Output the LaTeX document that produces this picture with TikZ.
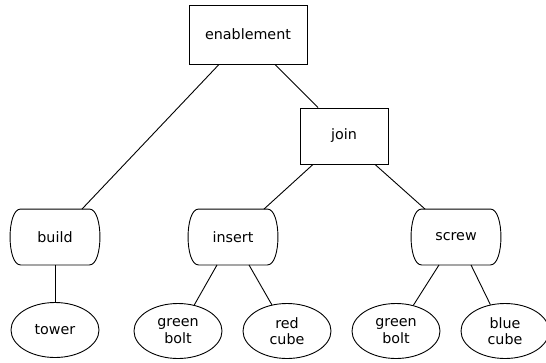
\documentclass[tikz,border=0pt]{standalone}
\usepackage{fontspec}
\setmainfont{DejaVu Sans}
\usetikzlibrary{positioning, shapes.geometric}
\tikzset{
every node/.style={font=\fontsize{14.3}{16.5}\selectfont, align=center}, % text of all nodes
task/.style={draw, rectangle, minimum width=88pt, minimum height=56pt}, % composite steps
act/.style={minimum width=88pt, minimum height=55pt, % actions: box with bulging sides
  append after command={\pgfextra{\draw ([xshift=10pt]\tikzlastnode.north west) -- ([xshift=-10pt]\tikzlastnode.north east)
    .. controls ([xshift=4pt]\tikzlastnode.north east) and ([xshift=4pt]\tikzlastnode.south east) .. ([xshift=-10pt]\tikzlastnode.south east)
    -- ([xshift=10pt]\tikzlastnode.south west)
    .. controls ([xshift=-4pt]\tikzlastnode.south west) and ([xshift=-4pt]\tikzlastnode.north west) .. cycle;}}},
part/.style={draw, ellipse, inner sep=0pt, minimum width=88pt, minimum height=55pt}, % objects
node distance=109pt, % spacing of the leaves. Change if necessary.
}

\begin{document}
\begin{tikzpicture}[x=1pt, y=-1pt, line width=0.9pt]
      \useasboundingbox (0,0) rectangle (546,362);
      \node[task, minimum width=118pt, minimum height=59pt] (enab) at (248,34.5) {enablement};
      \node[task] (join) at (344,136) {join};
      \node[act] (build) at (55,237) {build};
      \node[act] (insert) at (233,237) {insert};
      \node[act] (screw) at (456,237) {screw};
      \node[part] (tower) at (55,330) {tower};
      \node[part] (gbolt1) at (178,331) {green\\bolt};
      \node[part, right of=gbolt1] (rcube) {red\\cube};
      \node[part, right of=rcube] (gbolt2) {green\\bolt};
      \node[part, right of=gbolt2] (bcube) {blue\\cube};
      \draw ([xshift=-29pt]enab.south) -- ([xshift=27pt]build.north);
      \draw ([xshift=27pt]enab.south) -- ([xshift=-26pt]join.north);
      \draw ([xshift=-31pt]join.south) -- ([xshift=31pt]insert.north);
      \draw ([xshift=31pt]join.south) -- ([xshift=-31pt]screw.north);
      \draw (build) -- (tower);
      \draw ([xshift=-16pt]insert.south) -- (gbolt1.58);
      \draw ([xshift=16pt]insert.south) -- (rcube.120);
      \draw ([xshift=-17pt]screw.south) -- (gbolt2.56);
      \draw ([xshift=15pt]screw.south) -- (bcube.119);
    \end{tikzpicture}
\end{document}
